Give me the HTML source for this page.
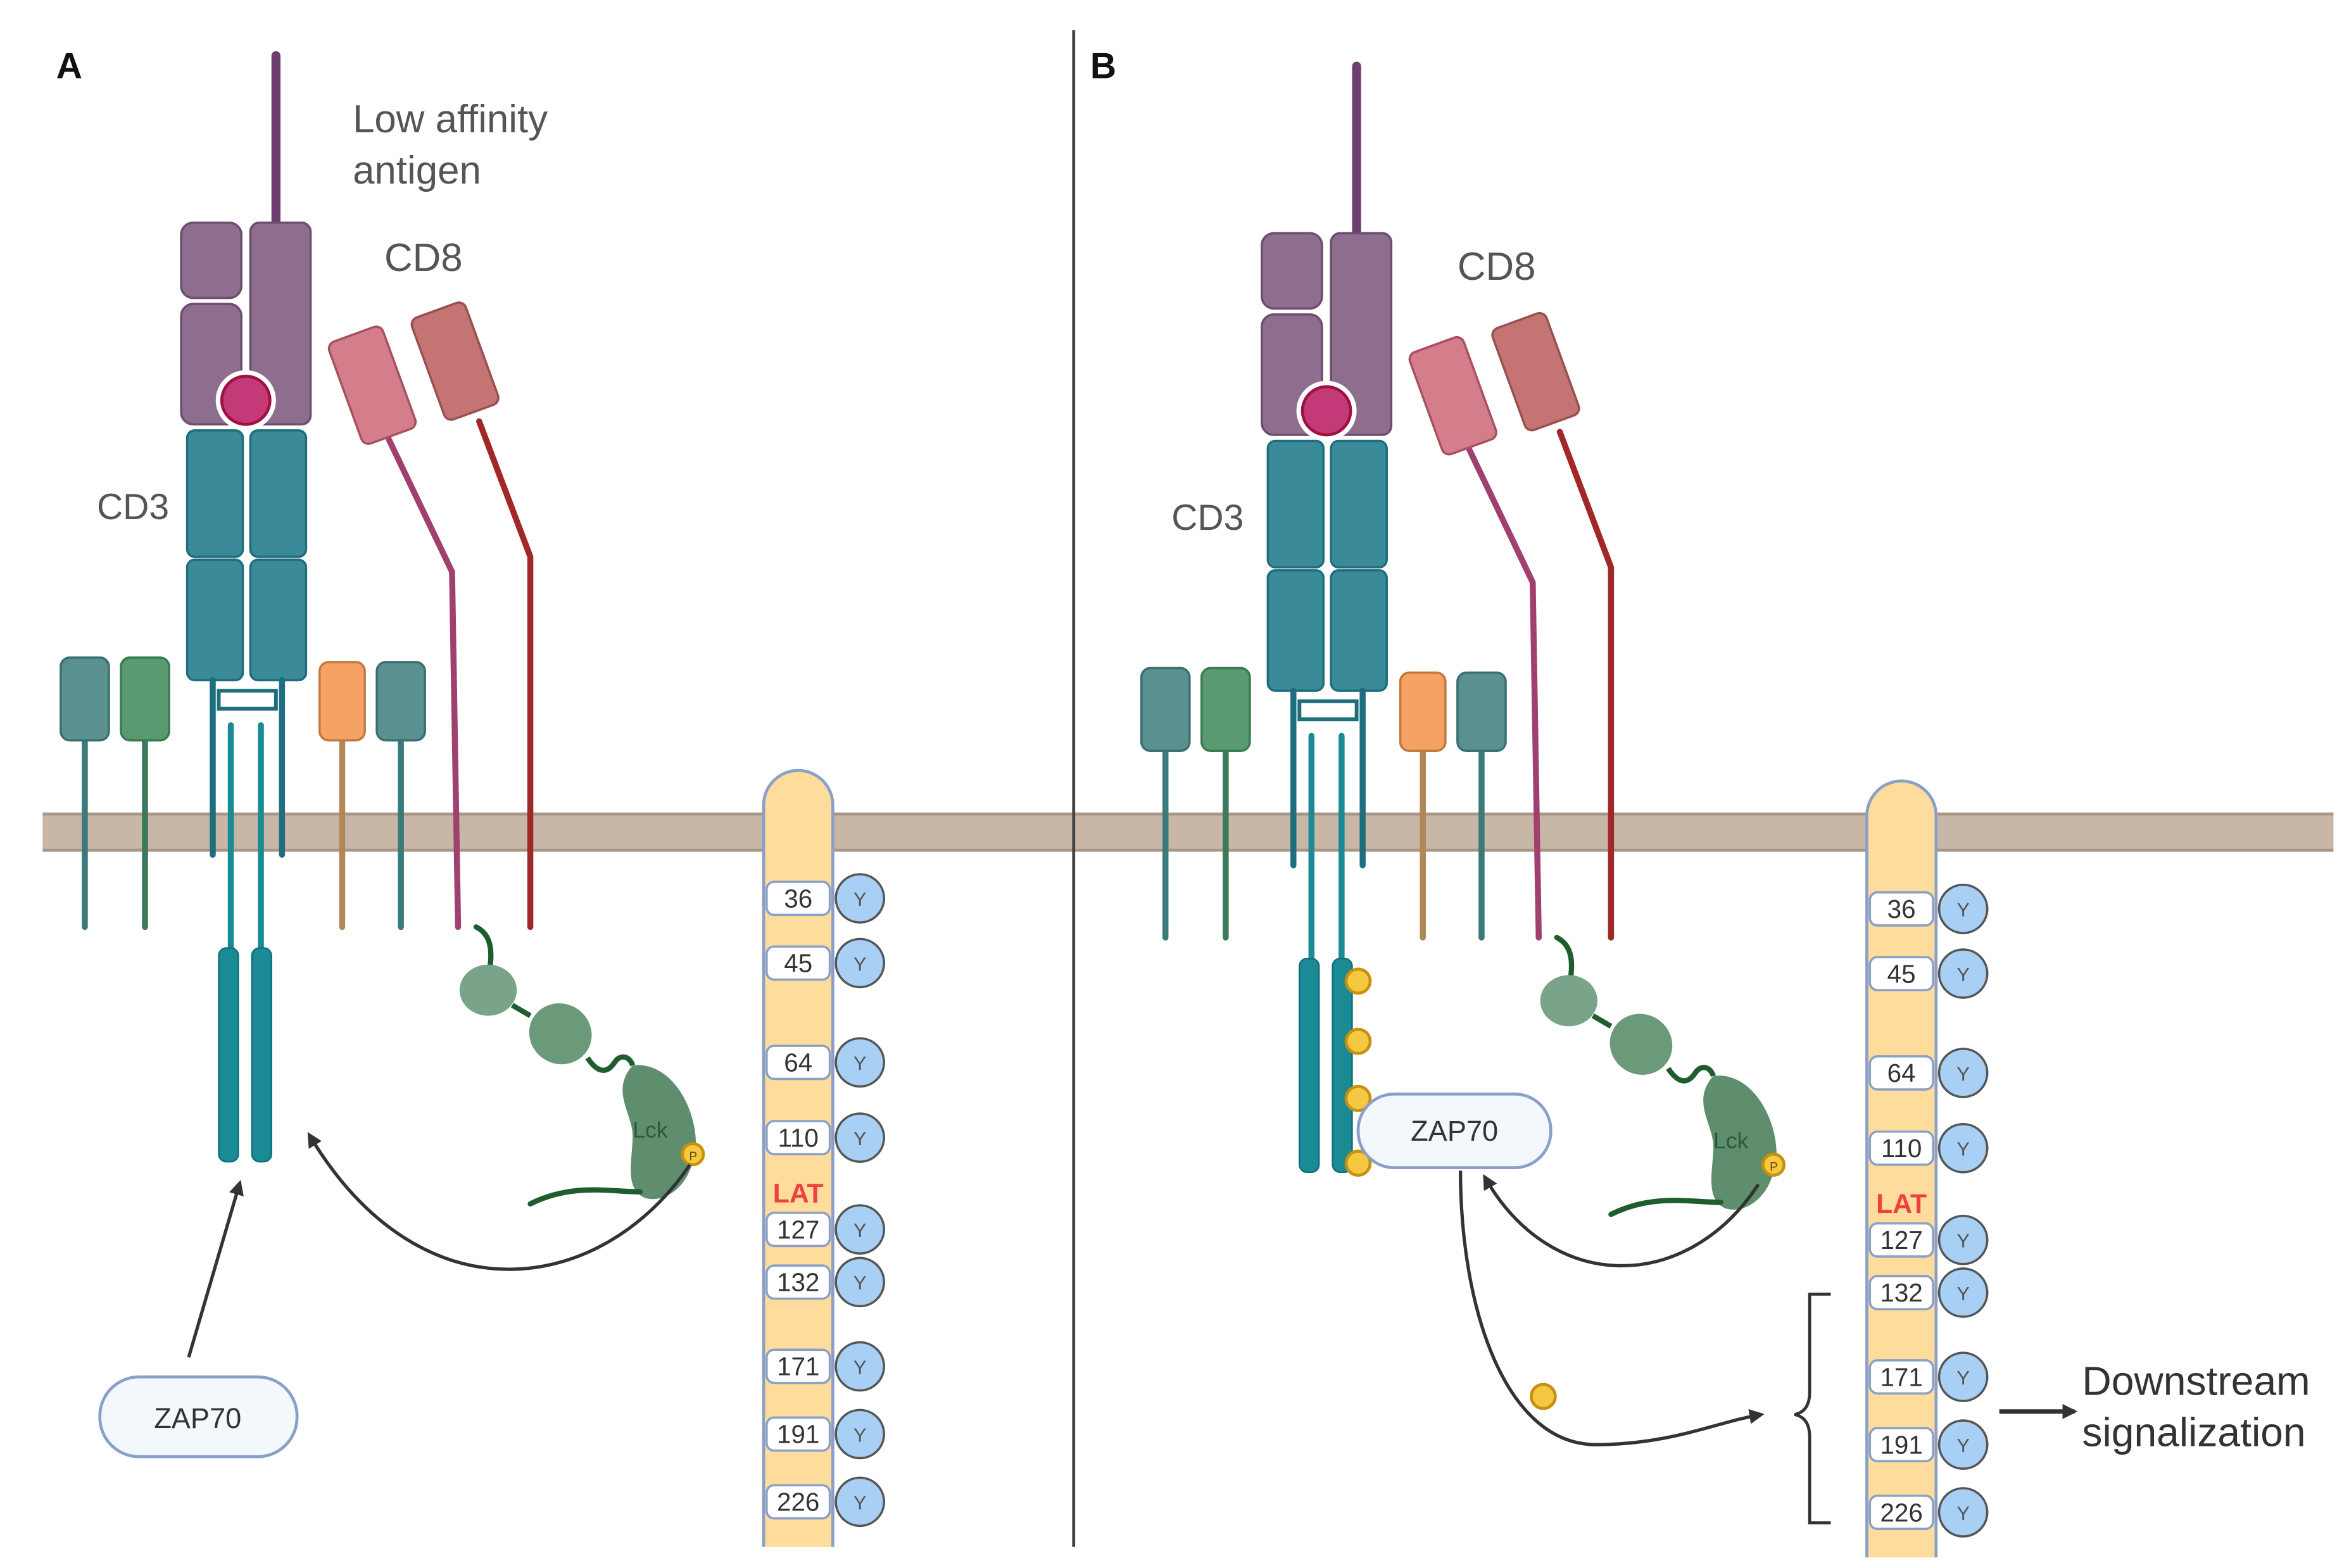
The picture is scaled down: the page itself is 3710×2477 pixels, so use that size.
<!DOCTYPE html>
<html><head><meta charset="utf-8"><style>
html,body{margin:0;padding:0;background:#fff;}
svg{display:block;}
text{font-family:"Liberation Sans",sans-serif;}
</style></head><body>
<svg width="3710" height="2477" viewBox="0 0 1560 1042" xmlns="http://www.w3.org/2000/svg">
<defs>
<marker id="ah" markerWidth="10" markerHeight="10" refX="8" refY="5" orient="auto" markerUnits="userSpaceOnUse">
<path d="M0,0 L10,5 L0,10 z" fill="#333"/></marker>
<g id="panel">
  <!-- antigen stick -->
  <line x1="183" y1="37" x2="183" y2="150" stroke="#6e3f6e" stroke-width="6" stroke-linecap="round"/>
  <!-- MHC -->
  <rect x="120" y="148" width="40" height="50" rx="8" fill="#8e6e8e" stroke="#6e4e6e" stroke-width="1.5"/>
  <rect x="120" y="202" width="40" height="80" rx="8" fill="#8e6e8e" stroke="#6e4e6e" stroke-width="1.5"/>
  <rect x="166" y="148" width="40" height="134" rx="6" fill="#8e6e8e" stroke="#6e4e6e" stroke-width="1.5"/>
  <circle cx="163" cy="266" r="20" fill="#fff"/>
  <circle cx="163" cy="266" r="16" fill="#c43a78" stroke="#a01040" stroke-width="2"/>
  <!-- CD3 -->
  <rect x="124" y="286" width="37" height="84" rx="5" fill="#3a8a9a" stroke="#1e6e7e" stroke-width="1.5"/>
  <rect x="124" y="372" width="37" height="80" rx="5" fill="#3a8a9a" stroke="#1e6e7e" stroke-width="1.5"/>
  <rect x="166" y="286" width="37" height="84" rx="5" fill="#3a8a9a" stroke="#1e6e7e" stroke-width="1.5"/>
  <rect x="166" y="372" width="37" height="80" rx="5" fill="#3a8a9a" stroke="#1e6e7e" stroke-width="1.5"/>
  <g stroke="#1e6e7e" stroke-width="4" fill="none" stroke-linecap="round">
    <line x1="141" y1="452" x2="141" y2="568"/>
    <line x1="187" y1="452" x2="187" y2="568"/>
    <rect x="145" y="459" width="38" height="12" stroke-width="2.5"/>
    <line x1="153" y1="482" x2="153" y2="630" stroke="#1a8a95"/>
    <line x1="173" y1="482" x2="173" y2="630" stroke="#1a8a95"/>
  </g>
  <rect x="145" y="630" width="13" height="142" rx="5" fill="#1a8a95" stroke="#0e6e78"/>
  <rect x="167" y="630" width="13" height="142" rx="5" fill="#1a8a95" stroke="#0e6e78"/>
  <!-- small receptors -->
  <g stroke-width="4" stroke-linecap="round">
    <line x1="56" y1="490" x2="56" y2="616" stroke="#3a7a7a"/>
    <line x1="96" y1="490" x2="96" y2="616" stroke="#3a7a5a"/>
    <line x1="227" y1="490" x2="227" y2="616" stroke="#b08858"/>
    <line x1="266" y1="490" x2="266" y2="616" stroke="#3a7a7a"/>
  </g>
  <rect x="40" y="437" width="32" height="55" rx="6" fill="#5a9090" stroke="#3a7070" stroke-width="1.5"/>
  <rect x="80" y="437" width="32" height="55" rx="6" fill="#5a9a70" stroke="#3a7a50" stroke-width="1.5"/>
  <rect x="212" y="440" width="30" height="52" rx="6" fill="#f6a264" stroke="#c07a40" stroke-width="1.5"/>
  <rect x="250" y="440" width="32" height="52" rx="6" fill="#5a9090" stroke="#3a7070" stroke-width="1.5"/>
  <!-- CD8 -->
  <polyline points="258,292 300,380 304,616" fill="none" stroke="#a04070" stroke-width="4" stroke-linecap="round"/>
  <polyline points="318,280 352,370 352,616" fill="none" stroke="#a02828" stroke-width="4" stroke-linecap="round"/>
  <rect x="-19" y="-36" width="38" height="72" rx="5" fill="#d47e8c" stroke="#a85060" stroke-width="1.5" transform="translate(247,256) rotate(-20)"/>
  <rect x="-19" y="-36" width="38" height="72" rx="5" fill="#c47472" stroke="#985050" stroke-width="1.5" transform="translate(302,240) rotate(-20)"/>
  <!-- Lck chain -->
  <path d="M316,616 C328,622 326,636 325,645" fill="none" stroke="#1e5e2e" stroke-width="3.5" stroke-linecap="round"/>
  <ellipse cx="324" cy="658" rx="19" ry="17" fill="#7aa48a"/>
  <path d="M340,668 L352,675" stroke="#1e5e2e" stroke-width="3.5"/>
  <ellipse cx="372" cy="687" rx="21" ry="20" fill="#6a9a7a" transform="rotate(30 372 687)"/>
  <path d="M390,703 C398,715 404,712 408,706 C412,700 418,702 420,708" fill="none" stroke="#1e5e2e" stroke-width="3.5"/>
  <path d="M420,708 C445,705 462,735 462,760 C460,790 440,800 428,796 C414,790 420,770 420,755 C420,740 405,725 420,708 z" fill="#5e8e6e"/>
  <text x="420" y="756" font-size="15" fill="#2a5a3a">Lck</text>
  <path d="M425,792 C405,792 380,786 352,800" fill="none" stroke="#1e5e2e" stroke-width="3.5" stroke-linecap="round"/>
  <circle cx="460" cy="767" r="7" fill="#f5c842" stroke="#c89010" stroke-width="2"/>
  <text x="457.5" y="771" font-size="8" fill="#6a4a00">P</text>
</g>
<g id="lat">
  <path d="M507,1028 L507,535 A23,23 0 0 1 553,535 L553,1028" fill="#fddc9c" stroke="#8aa0c8" stroke-width="2"/>
</g>
</defs>

<!-- membrane -->
<rect x="28" y="540" width="1522" height="26" fill="#c8b6a6"/>
<line x1="28" y1="541" x2="1550" y2="541" stroke="#a89686" stroke-width="2"/>
<line x1="28" y1="565" x2="1550" y2="565" stroke="#a89686" stroke-width="2"/>

<!-- divider -->
<line x1="713" y1="20" x2="713" y2="1028" stroke="#444" stroke-width="2"/>

<text x="37" y="52" font-size="24" font-weight="bold" fill="#111">A</text>
<text x="724" y="52" font-size="24" font-weight="bold" fill="#111">B</text>

<use href="#panel"/>
<use href="#panel" transform="translate(718,7)"/>

<text x="234" y="88" font-size="26" fill="#555">Low affinity</text>
<text x="234" y="122" font-size="26" fill="#555">antigen</text>
<text x="255" y="180" font-size="26" fill="#555">CD8</text>
<text x="64" y="345" font-size="24" fill="#555">CD3</text>
<text x="968" y="186" font-size="26" fill="#555">CD8</text>
<text x="778" y="352" font-size="24" fill="#555">CD3</text>

<!-- LAT A -->
<use href="#lat"/>
<use href="#lat" transform="translate(733,7)"/>

<g font-size="17" text-anchor="middle" fill="#333">
  <!-- A -->
  <g id="tyrA">
  </g>
</g>

<!-- LAT boxes generated -->
<g font-size="17" fill="#333">
  <!-- Panel A -->
  <g>
    <rect x="509" y="586" width="42" height="22" rx="5" fill="#fff" stroke="#8aa0c8" stroke-width="1.5"/><text x="530" y="603" text-anchor="middle">36</text><circle cx="571" cy="597" r="16" fill="#a8d0f4" stroke="#555" stroke-width="1.5"/><text x="571" y="602" text-anchor="middle" font-size="13" fill="#555">Y</text>
    <rect x="509" y="629" width="42" height="22" rx="5" fill="#fff" stroke="#8aa0c8" stroke-width="1.5"/><text x="530" y="646" text-anchor="middle">45</text><circle cx="571" cy="640" r="16" fill="#a8d0f4" stroke="#555" stroke-width="1.5"/><text x="571" y="645" text-anchor="middle" font-size="13" fill="#555">Y</text>
    <rect x="509" y="695" width="42" height="22" rx="5" fill="#fff" stroke="#8aa0c8" stroke-width="1.5"/><text x="530" y="712" text-anchor="middle">64</text><circle cx="571" cy="706" r="16" fill="#a8d0f4" stroke="#555" stroke-width="1.5"/><text x="571" y="711" text-anchor="middle" font-size="13" fill="#555">Y</text>
    <rect x="509" y="745" width="42" height="22" rx="5" fill="#fff" stroke="#8aa0c8" stroke-width="1.5"/><text x="530" y="762" text-anchor="middle">110</text><circle cx="571" cy="756" r="16" fill="#a8d0f4" stroke="#555" stroke-width="1.5"/><text x="571" y="761" text-anchor="middle" font-size="13" fill="#555">Y</text>
    <text x="530" y="799" text-anchor="middle" font-weight="bold" fill="#f04040" font-size="18">LAT</text>
    <rect x="509" y="806" width="42" height="22" rx="5" fill="#fff" stroke="#8aa0c8" stroke-width="1.5"/><text x="530" y="823" text-anchor="middle">127</text><circle cx="571" cy="817" r="16" fill="#a8d0f4" stroke="#555" stroke-width="1.5"/><text x="571" y="822" text-anchor="middle" font-size="13" fill="#555">Y</text>
    <rect x="509" y="841" width="42" height="22" rx="5" fill="#fff" stroke="#8aa0c8" stroke-width="1.5"/><text x="530" y="858" text-anchor="middle">132</text><circle cx="571" cy="852" r="16" fill="#a8d0f4" stroke="#555" stroke-width="1.5"/><text x="571" y="857" text-anchor="middle" font-size="13" fill="#555">Y</text>
    <rect x="509" y="897" width="42" height="22" rx="5" fill="#fff" stroke="#8aa0c8" stroke-width="1.5"/><text x="530" y="914" text-anchor="middle">171</text><circle cx="571" cy="908" r="16" fill="#a8d0f4" stroke="#555" stroke-width="1.5"/><text x="571" y="913" text-anchor="middle" font-size="13" fill="#555">Y</text>
    <rect x="509" y="942" width="42" height="22" rx="5" fill="#fff" stroke="#8aa0c8" stroke-width="1.5"/><text x="530" y="959" text-anchor="middle">191</text><circle cx="571" cy="953" r="16" fill="#a8d0f4" stroke="#555" stroke-width="1.5"/><text x="571" y="958" text-anchor="middle" font-size="13" fill="#555">Y</text>
    <rect x="509" y="987" width="42" height="22" rx="5" fill="#fff" stroke="#8aa0c8" stroke-width="1.5"/><text x="530" y="1004" text-anchor="middle">226</text><circle cx="571" cy="998" r="16" fill="#a8d0f4" stroke="#555" stroke-width="1.5"/><text x="571" y="1003" text-anchor="middle" font-size="13" fill="#555">Y</text>
  </g>
  <!-- Panel B -->
  <g transform="translate(733,7)">
    <rect x="509" y="586" width="42" height="22" rx="5" fill="#fff" stroke="#8aa0c8" stroke-width="1.5"/><text x="530" y="603" text-anchor="middle">36</text><circle cx="571" cy="597" r="16" fill="#a8d0f4" stroke="#555" stroke-width="1.5"/><text x="571" y="602" text-anchor="middle" font-size="13" fill="#555">Y</text>
    <rect x="509" y="629" width="42" height="22" rx="5" fill="#fff" stroke="#8aa0c8" stroke-width="1.5"/><text x="530" y="646" text-anchor="middle">45</text><circle cx="571" cy="640" r="16" fill="#a8d0f4" stroke="#555" stroke-width="1.5"/><text x="571" y="645" text-anchor="middle" font-size="13" fill="#555">Y</text>
    <rect x="509" y="695" width="42" height="22" rx="5" fill="#fff" stroke="#8aa0c8" stroke-width="1.5"/><text x="530" y="712" text-anchor="middle">64</text><circle cx="571" cy="706" r="16" fill="#a8d0f4" stroke="#555" stroke-width="1.5"/><text x="571" y="711" text-anchor="middle" font-size="13" fill="#555">Y</text>
    <rect x="509" y="745" width="42" height="22" rx="5" fill="#fff" stroke="#8aa0c8" stroke-width="1.5"/><text x="530" y="762" text-anchor="middle">110</text><circle cx="571" cy="756" r="16" fill="#a8d0f4" stroke="#555" stroke-width="1.5"/><text x="571" y="761" text-anchor="middle" font-size="13" fill="#555">Y</text>
    <text x="530" y="799" text-anchor="middle" font-weight="bold" fill="#f04040" font-size="18">LAT</text>
    <rect x="509" y="806" width="42" height="22" rx="5" fill="#fff" stroke="#8aa0c8" stroke-width="1.5"/><text x="530" y="823" text-anchor="middle">127</text><circle cx="571" cy="817" r="16" fill="#a8d0f4" stroke="#555" stroke-width="1.5"/><text x="571" y="822" text-anchor="middle" font-size="13" fill="#555">Y</text>
    <rect x="509" y="841" width="42" height="22" rx="5" fill="#fff" stroke="#8aa0c8" stroke-width="1.5"/><text x="530" y="858" text-anchor="middle">132</text><circle cx="571" cy="852" r="16" fill="#a8d0f4" stroke="#555" stroke-width="1.5"/><text x="571" y="857" text-anchor="middle" font-size="13" fill="#555">Y</text>
    <rect x="509" y="897" width="42" height="22" rx="5" fill="#fff" stroke="#8aa0c8" stroke-width="1.5"/><text x="530" y="914" text-anchor="middle">171</text><circle cx="571" cy="908" r="16" fill="#a8d0f4" stroke="#555" stroke-width="1.5"/><text x="571" y="913" text-anchor="middle" font-size="13" fill="#555">Y</text>
    <rect x="509" y="942" width="42" height="22" rx="5" fill="#fff" stroke="#8aa0c8" stroke-width="1.5"/><text x="530" y="959" text-anchor="middle">191</text><circle cx="571" cy="953" r="16" fill="#a8d0f4" stroke="#555" stroke-width="1.5"/><text x="571" y="958" text-anchor="middle" font-size="13" fill="#555">Y</text>
    <rect x="509" y="987" width="42" height="22" rx="5" fill="#fff" stroke="#8aa0c8" stroke-width="1.5"/><text x="530" y="1004" text-anchor="middle">226</text><circle cx="571" cy="998" r="16" fill="#a8d0f4" stroke="#555" stroke-width="1.5"/><text x="571" y="1003" text-anchor="middle" font-size="13" fill="#555">Y</text>
  </g>
</g>

<!-- Panel A arrows & ZAP70 -->
<path d="M458,774 C400,860 280,880 205,754" fill="none" stroke="#333" stroke-width="2.2" marker-end="url(#ah)"/>
<line x1="125" y1="902" x2="159" y2="786" stroke="#333" stroke-width="2.2" marker-end="url(#ah)"/>
<rect x="66" y="915" width="131" height="53" rx="26" fill="#f2f8fc" stroke="#8aa0c8" stroke-width="2"/>
<text x="131" y="949" text-anchor="middle" font-size="19" fill="#333">ZAP70</text>

<!-- Panel B extras -->
<g>
  <circle cx="902" cy="652" r="8" fill="#f5c842" stroke="#c89010" stroke-width="2"/>
  <circle cx="902" cy="692" r="8" fill="#f5c842" stroke="#c89010" stroke-width="2"/>
  <circle cx="902" cy="730" r="8" fill="#f5c842" stroke="#c89010" stroke-width="2"/>
  <circle cx="902" cy="773" r="8" fill="#f5c842" stroke="#c89010" stroke-width="2"/>
</g>
<rect x="902" y="727" width="128" height="49" rx="24" fill="#f2f8fc" stroke="#8aa0c8" stroke-width="2"/>
<text x="966" y="758" text-anchor="middle" font-size="19" fill="#333">ZAP70</text>
<path d="M1168,787 C1120,860 1030,860 986,782" fill="none" stroke="#333" stroke-width="2.2" marker-end="url(#ah)"/>
<path d="M970,778 C970,870 1000,960 1060,960 C1110,960 1140,945 1170,940" fill="none" stroke="#333" stroke-width="2.2" marker-end="url(#ah)"/>
<circle cx="1025" cy="928" r="8" fill="#f5c842" stroke="#c89010" stroke-width="2"/>
<path d="M1216,860 L1202,860 L1202,925 Q1202,938 1192,940 Q1202,942 1202,955 L1202,1012 L1216,1012" fill="none" stroke="#333" stroke-width="2"/>
<line x1="1328" y1="938" x2="1378" y2="938" stroke="#333" stroke-width="3" marker-end="url(#ah)"/>
<text x="1383" y="927" font-size="27" fill="#333">Downstream</text>
<text x="1383" y="961" font-size="27" fill="#333">signalization</text>
</svg>
</body></html>
